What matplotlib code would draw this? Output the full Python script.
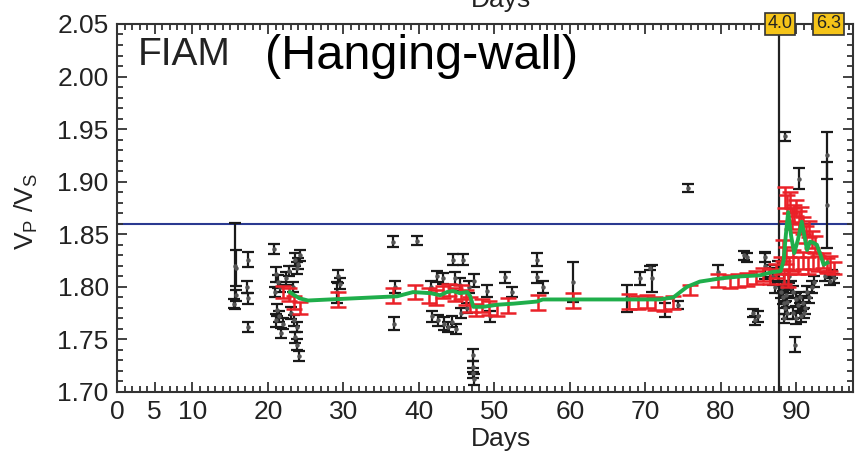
import numpy as np
import matplotlib
matplotlib.use("Agg")
import matplotlib.pyplot as plt
from matplotlib.ticker import MultipleLocator, FixedLocator

plt.rcParams['font.family'] = ['Liberation Sans', 'DejaVu Sans']
plt.rcParams['mathtext.default'] = 'regular'

# single-event Vp/Vs estimates (day, value, error)
blk_day = [15.6, 15.8, 15.7, 15.5, 17.3, 17.2, 17.4, 17.3,
           20.8, 21.0, 21.3, 20.9, 21.6, 21.2, 21.5, 21.0, 22.0, 21.7,
           22.4, 22.8, 23.6, 23.9, 23.3, 23.0, 23.5, 23.9, 23.6, 23.8, 24.1,
           24.2, 24.0,
           29.3, 29.5, 29.2, 36.6, 36.8, 36.7, 39.7,
           41.6, 42.4, 43.2, 44.5, 45.8, 44.8, 45.4, 46.6, 47.3, 49.0,
           41.7, 42.5, 43.3, 43.9, 44.4, 44.9, 45.6, 46.4,
           47.2, 47.1, 47.2, 47.3, 49.4,
           51.4, 52.3, 55.6, 55.6, 56.4, 60.4,
           67.6, 69.3, 70.9, 70.6, 72.6, 74.3, 75.6,
           79.6, 83.0, 83.4, 85.8, 85.8, 84.2, 84.5, 84.9, 86.5, 86.9, 87.2, 87.5,
           88.0, 88.2, 88.3, 88.5, 88.7, 88.1, 88.4, 88.6, 88.8, 88.3,
           89.0, 89.3, 89.6, 89.9, 90.2, 90.5, 90.8, 91.1, 91.4, 91.7, 92.0, 92.3,
           89.5, 90.6, 91.0, 90.0, 89.8, 88.5, 90.4, 94.0, 94.0,
           93.8, 94.4, 95.0, 94.7]
blk_vpvs = [1.820, 1.818, 1.792, 1.784, 1.826, 1.800, 1.789, 1.762,
            1.836, 1.812, 1.805, 1.795, 1.800, 1.778, 1.772, 1.768, 1.765, 1.756,
            1.808, 1.815, 1.826, 1.818, 1.800, 1.775, 1.768, 1.762, 1.752, 1.745, 1.734,
            1.830, 1.822,
            1.810, 1.803, 1.795, 1.843, 1.800, 1.765, 1.844,
            1.800, 1.810, 1.808, 1.826, 1.826, 1.808, 1.802, 1.800, 1.806, 1.796,
            1.772, 1.768, 1.765, 1.762, 1.767, 1.760, 1.775, 1.780,
            1.735, 1.724, 1.718, 1.712, 1.772,
            1.809, 1.795, 1.826, 1.809, 1.800, 1.805,
            1.789, 1.808, 1.808, 1.818, 1.778, 1.783, 1.894,
            1.814, 1.830, 1.828, 1.828, 1.820, 1.775, 1.768, 1.772, 1.815, 1.810, 1.800, 1.815,
            1.795, 1.790, 1.785, 1.780, 1.775, 1.800, 1.805, 1.792, 1.786, 1.770,
            1.810, 1.800, 1.795, 1.788, 1.783, 1.790, 1.785, 1.780, 1.795, 1.790, 1.800, 1.805,
            1.775, 1.772, 1.775, 1.770, 1.745, 1.943, 1.903, 1.925, 1.878,
            1.810, 1.806, 1.808, 1.812]
blk_err = [0.041, 0.017, 0.005, 0.004, 0.007, 0.006, 0.005, 0.005,
           0.005, 0.007, 0.006, 0.005, 0.005, 0.006, 0.005, 0.006, 0.005, 0.005,
           0.006, 0.005, 0.006, 0.006, 0.005, 0.006, 0.005, 0.005, 0.005, 0.005, 0.005,
           0.005, 0.005,
           0.006, 0.005, 0.010, 0.005, 0.006, 0.006, 0.004,
           0.006, 0.005, 0.005, 0.005, 0.005, 0.006, 0.006, 0.006, 0.006, 0.006,
           0.005, 0.005, 0.006, 0.005, 0.005, 0.005, 0.005, 0.005,
           0.006, 0.005, 0.005, 0.005, 0.005,
           0.005, 0.005, 0.006, 0.005, 0.006, 0.019,
           0.013, 0.006, 0.013, 0.002, 0.007, 0.004, 0.004,
           0.007, 0.004, 0.004, 0.004, 0.013, 0.004, 0.004, 0.005, 0.006, 0.008, 0.006, 0.010,
           0.006, 0.006, 0.005, 0.006, 0.006, 0.006, 0.007, 0.005, 0.005, 0.004,
           0.006, 0.006, 0.006, 0.006, 0.006, 0.005, 0.006, 0.006, 0.006, 0.005, 0.006, 0.005,
           0.006, 0.005, 0.005, 0.005, 0.007, 0.004, 0.010, 0.022, 0.041,
           0.004, 0.004, 0.004, 0.004]

# windowed averages (day, value, error)
red_day = [22.0, 22.8, 23.5, 24.2, 29.3, 36.6, 39.5,
           41.3, 42.3, 43.2, 44.0, 44.8, 45.5, 46.2, 46.8, 47.5, 48.3, 49.3, 50.3,
           51.8, 55.8, 60.4,
           67.8, 69.0, 70.2, 71.3, 72.4, 73.6, 75.9,
           79.6, 81.2, 82.3, 83.5, 84.6, 85.6, 86.5, 87.3,
           87.9, 88.2, 88.5, 88.8, 89.1, 89.4, 89.7, 90.0, 90.3, 90.6, 90.9,
           91.3, 91.7, 92.1, 92.5, 88.6, 89.0, 89.5, 90.2, 90.8, 91.5, 92.2,
           92.9, 93.5, 94.0, 94.5, 95.0, 88.3, 88.9]
red_vpvs = [1.795, 1.793, 1.785, 1.780, 1.788, 1.792, 1.795,
            1.792, 1.790, 1.795, 1.797, 1.793, 1.795, 1.790, 1.783, 1.778, 1.782, 1.780, 1.778,
            1.782, 1.785, 1.787,
            1.786, 1.785, 1.786, 1.784, 1.783, 1.785, 1.797,
            1.806, 1.805, 1.806, 1.807, 1.809, 1.812, 1.810, 1.815,
            1.820, 1.835, 1.885, 1.875, 1.880, 1.865, 1.870, 1.875, 1.862, 1.868, 1.858,
            1.850, 1.855, 1.845, 1.840, 1.830, 1.820, 1.825, 1.820, 1.825, 1.820, 1.825,
            1.822, 1.825, 1.820, 1.822, 1.818, 1.810, 1.808]
red_err = [0.006, 0.006, 0.006, 0.006, 0.007, 0.007, 0.007,
           0.007, 0.007, 0.006, 0.006, 0.006, 0.007, 0.007, 0.007, 0.006, 0.006, 0.007, 0.006,
           0.007, 0.007, 0.007,
           0.007, 0.006, 0.006, 0.006, 0.006, 0.006, 0.005,
           0.006, 0.006, 0.006, 0.006, 0.006, 0.006, 0.007, 0.007,
           0.008, 0.010, 0.010, 0.012, 0.010, 0.010, 0.008, 0.008, 0.010, 0.008, 0.008,
           0.008, 0.008, 0.008, 0.008, 0.008, 0.008, 0.010, 0.008, 0.008, 0.008, 0.008,
           0.007, 0.007, 0.007, 0.007, 0.006, 0.007, 0.008]

# smoothed trend
grn_day = [22.9, 23.5, 24.2, 25.3, 28.2, 37.1, 39.2, 41.5, 42.8, 43.7, 44.5, 45.4,
           46.4, 46.8, 47.2, 48.5, 50.4, 52.5, 55.6, 56.4, 61.4, 65.7, 71.9, 73.7,
           75.5, 77.2, 79.9, 82.7, 85.2, 86.8, 87.9, 88.3, 88.6, 88.9, 89.3, 89.7,
           90.2, 90.7, 91.4, 91.8, 92.2, 92.7, 93.2, 93.6, 94.1]
grn_vpvs = [1.795, 1.792, 1.789, 1.787, 1.788, 1.791, 1.795, 1.794, 1.792, 1.795, 1.796, 1.794,
            1.795, 1.791, 1.781, 1.781, 1.783, 1.784, 1.786, 1.788, 1.788, 1.788, 1.788, 1.790,
            1.800, 1.805, 1.808, 1.810, 1.811, 1.814, 1.815, 1.825, 1.850, 1.871, 1.848, 1.832,
            1.845, 1.862, 1.835, 1.843, 1.842, 1.840, 1.830, 1.821, 1.823]

events = [(87.8, '4.0'), (94.25, '6.3')]
mainshock_day = 87.7
ref_vpvs = 1.86

fig = plt.figure(figsize=(8.66, 4.55), dpi=100)
ax = fig.add_axes([0.1351, 0.1385, 0.850, 0.8088])

ax.axhline(ref_vpvs, color='#2a3990', lw=1.5, zorder=1)
ax.axvline(mainshock_day, color='#222222', lw=1.6, zorder=1)

ax.errorbar(blk_day, blk_vpvs, yerr=blk_err, fmt='o', ms=2.2, mfc='#555555', mec='#555555',
            ecolor='#1a1a1a', elinewidth=1.6, capsize=4.5, capthick=1.6, zorder=2)
ax.errorbar(red_day, red_vpvs, yerr=red_err, fmt='none',
            ecolor='#ea2128', elinewidth=1.8, capsize=5.5, capthick=1.8, zorder=3)
ax.plot(grn_day, grn_vpvs, color='#1fae4b', lw=2.8, zorder=4)

ax.set_xlim(0, 97.5)
ax.set_ylim(1.70, 2.05)
ax.xaxis.set_major_locator(FixedLocator([0, 5, 10, 20, 30, 40, 50, 60, 70, 80, 90]))
ax.xaxis.set_minor_locator(MultipleLocator(1))
ax.yaxis.set_major_locator(MultipleLocator(0.05))
ax.yaxis.set_minor_locator(MultipleLocator(0.01))
ax.yaxis.set_major_formatter(matplotlib.ticker.FormatStrFormatter('%.2f'))
ax.tick_params(which='both', direction='in', top=True, right=True, color='#333333',
               labelsize=19, labelcolor='#222222', width=1.3)
ax.tick_params(which='major', length=7, pad=6)
ax.tick_params(which='minor', length=4)
for sp in ax.spines.values():
    sp.set_linewidth(1.5)
    sp.set_color('#333333')

ax.set_xlabel('Days', fontsize=19, color='#222222')
ax.xaxis.set_label_coords(0.522, -0.095)
ax.set_ylabel('V$_P$ /V$_S$', fontsize=19, color='#222222')
ax.yaxis.set_label_coords(-0.104, 0.49)

ax.text(0.028, 0.965, 'FIAM', transform=ax.transAxes, ha='left', va='top',
        fontsize=28, color='#222222')
fig.text(0.306, 0.875, '(Hanging-wall)', ha='left', va='center', fontsize=35, color='black')

# xlabel of the panel above, mostly cut off
fig.text(0.578, 0.984, 'Days', ha='center', va='baseline', fontsize=19, color='#222222')

for day, mag in events:
    ax.text(day, 2.05, mag, ha='center', va='center', fontsize=13,
            family=['Liberation Sans Narrow', 'Liberation Sans'], color='#222222',
            bbox=dict(boxstyle='square,pad=0.15', fc='#f5c419', ec='#333333', lw=1.2),
            clip_on=False, zorder=6)

fig.savefig('out.png', dpi=100)
